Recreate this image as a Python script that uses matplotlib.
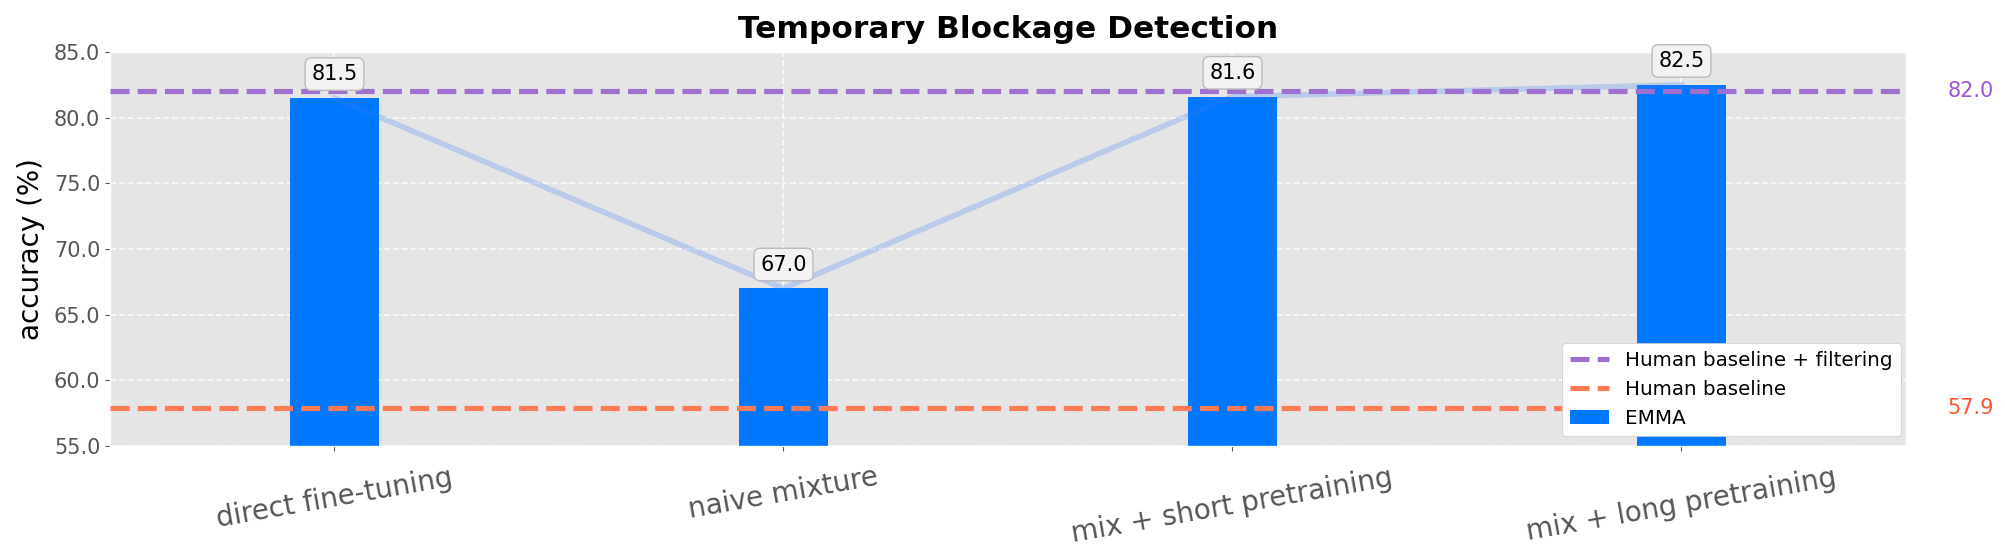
import matplotlib
matplotlib.use("Agg")
import matplotlib.pyplot as plt
import numpy as np

plt.style.use("ggplot")
plt.rcParams['font.family'] = ['DejaVu Sans']

categories = ["direct fine-tuning", "naive mixture", "mix + short pretraining", "mix + long pretraining"]
emma = [81.5, 67.0, 81.6, 82.5]
human_filter = 82.0
human = 57.9

bar_color = "#0077FF"
purple = "#A070D0"
orange = "#FF7A55"

W, H = 2006, 560
L, R, T, B = 110, 1906, 52, 446
fig = plt.figure(figsize=(W/100, H/100), dpi=100)
ax = fig.add_axes([L/W, 1-B/H, (R-L)/W, (B-T)/H])
ax.set_facecolor("#E5E5E5")

x = np.arange(len(categories))
ax.bar(x, emma, width=0.2, color=bar_color, label="EMMA", zorder=2)
ax.plot(x, emma, color="#3D7BFF", alpha=0.25, lw=4, zorder=3)
ax.axhline(human_filter, color=purple, ls="--", lw=3.7, label="Human baseline + filtering", zorder=4)
ax.axhline(human, color=orange, ls="--", lw=3.7, label="Human baseline", zorder=4)

for xi, v in zip(x, emma):
    ax.annotate(f"{v:.1f}", (xi, v), xytext=(0, 10), textcoords="offset points",
                ha="center", va="bottom", fontsize=15, color="black", zorder=5,
                bbox=dict(boxstyle="round,pad=0.3", fc="#F2F2F2", ec="#BBBBBB", lw=1))

ax.text(1.023, human_filter, f"{human_filter:.1f}", transform=ax.get_yaxis_transform(),
        color="#9B55D5", fontsize=15, va="center", ha="left")
ax.text(1.023, human, f"{human:.1f}", transform=ax.get_yaxis_transform(),
        color="#FF5533", fontsize=15, va="center", ha="left")

ax.set_xlim(-0.5, 3.5)
ax.set_ylim(55, 85)
ax.set_yticks(np.arange(55, 85.1, 5))
ax.set_yticklabels([f"{t:.1f}" for t in np.arange(55, 85.1, 5)], fontsize=15, color="#555555")
ax.set_xticks(x)
ax.set_xticklabels(categories, rotation=10, fontsize=20, color="#555555")
ax.tick_params(axis="x", pad=9)
ax.grid(True, color="white", ls="--", lw=1.2, alpha=0.8)
ax.set_axisbelow(True)
ax.set_ylabel("accuracy (%)", fontsize=20, color="black", labelpad=6)
ax.set_title("Temporary Blockage Detection", fontsize=22.5, fontweight="bold", color="black", pad=10)

h, l = ax.get_legend_handles_labels()
order = [l.index("Human baseline + filtering"), l.index("Human baseline"), l.index("EMMA")]
leg = ax.legend([h[i] for i in order], [l[i] for i in order], loc="lower right",
                bbox_to_anchor=(0.997, 0.025), borderaxespad=0, fontsize=14.3,
                facecolor="white", framealpha=1, edgecolor="#CCCCCC")
leg.set_zorder(10)

fig.savefig("out.png", dpi=100)
